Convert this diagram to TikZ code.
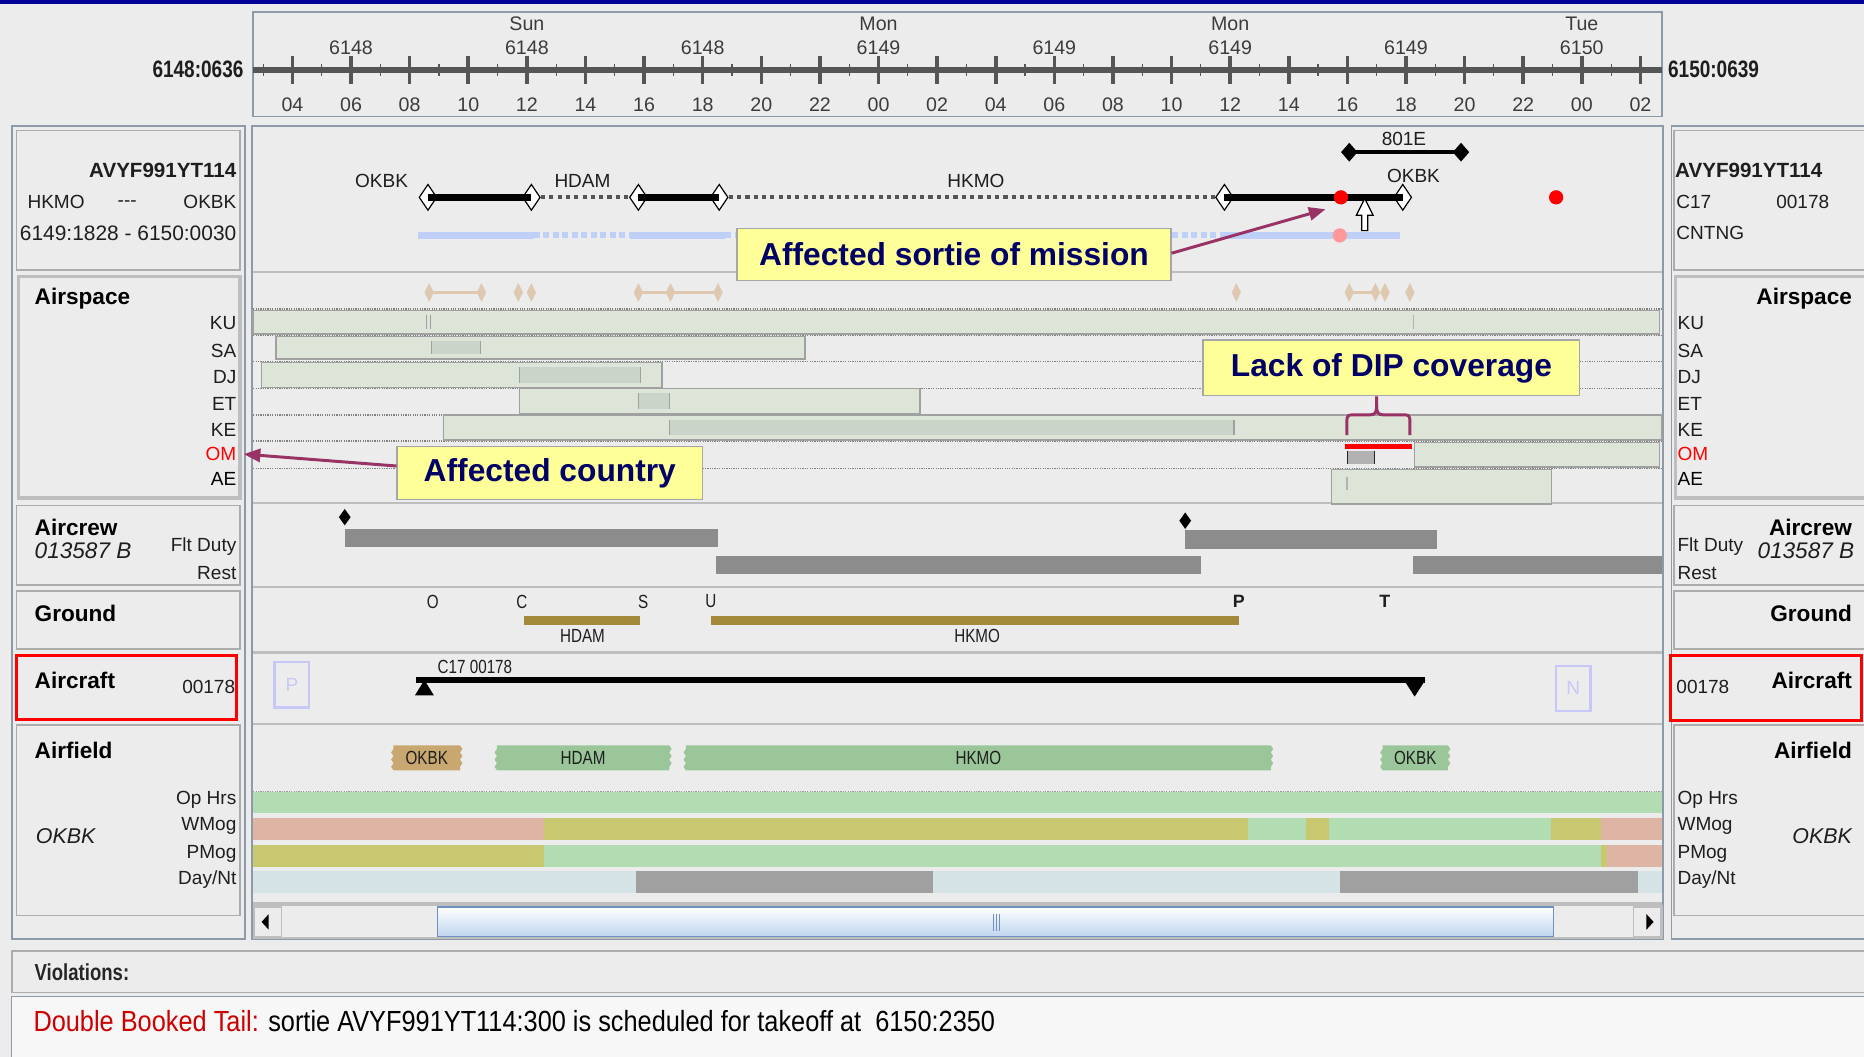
\documentclass[tikz,border=0pt]{standalone}
\usepackage{fontspec}
\usetikzlibrary{shapes.geometric,arrows.meta,calc}
\newfontfamily\uif{Liberation Sans}
\newfontfamily\narrowf{Liberation Sans}[FakeStretch=0.8]
\newfontfamily\msgf{Liberation Sans}[FakeStretch=0.87]

\definecolor{bgc}{RGB}{236,236,236}
\definecolor{navytop}{RGB}{0,0,150}
\definecolor{framec}{RGB}{140,154,170}
\definecolor{boxc}{RGB}{172,172,172}
\definecolor{selc}{RGB}{190,190,190}
\definecolor{sepc}{RGB}{190,190,190}
\definecolor{txtc}{RGB}{30,30,30}
\definecolor{rulertxt}{RGB}{60,60,60}
\definecolor{rulerc}{RGB}{85,85,85}
\definecolor{calloutc}{RGB}{255,255,153}
\definecolor{calltext}{RGB}{0,0,102}
\definecolor{plum}{RGB}{153,51,102}
\definecolor{sortiec}{RGB}{191,208,248}
\definecolor{dotc}{RGB}{85,85,85}
\definecolor{tanc}{RGB}{222,200,176}
\definecolor{spacec}{RGB}{221,229,217}
\definecolor{spacein}{RGB}{202,212,200}
\definecolor{spaceedge}{RGB}{160,160,160}
\definecolor{crewc}{RGB}{140,140,140}
\definecolor{groundc}{RGB}{163,138,58}
\definecolor{lavc}{RGB}{200,200,248}
\definecolor{fieldtan}{RGB}{200,168,112}
\definecolor{fieldgrn}{RGB}{154,198,154}
\definecolor{mogg}{RGB}{178,221,178}
\definecolor{mogy}{RGB}{200,200,112}
\definecolor{mogp}{RGB}{222,180,164}
\definecolor{dayc}{RGB}{213,226,230}
\definecolor{nightc}{RGB}{160,160,160}
\definecolor{thumbc}{RGB}{190,212,238}
\definecolor{thumbedge}{RGB}{112,144,192}
\definecolor{redlbl}{RGB}{204,0,0}

\tikzset{
  ui/.style={font=\uif\fontsize{16}{18}\selectfont, inner sep=0pt, text=txtc},
  rul/.style={font=\uif\fontsize{16.5}{18}\selectfont, inner sep=0pt, text=rulertxt},
  ttl/.style={font=\uif\bfseries\fontsize{19}{21}\selectfont, inner sep=0pt, text=black},
  ident/.style={font=\uif\bfseries\fontsize{17.3}{20}\selectfont, inner sep=0pt, text=txtc},
  stamp/.style={font=\narrowf\bfseries\fontsize{20}{22}\selectfont, inner sep=0pt, text=txtc},
  crewid/.style={font=\uif\itshape\fontsize{19}{21}\selectfont, inner sep=0pt, text=txtc},
  tagtext/.style={font=\narrowf\fontsize{16}{18}\selectfont, inner sep=0pt, text=txtc},
  pbox/.style={draw=boxc, line width=1.2pt},
  selbox/.style={draw=selc, line width=3pt},
  redbox/.style={draw=red, line width=2.5pt},
  sep/.style={draw=sepc, line width=2pt},
  frame/.style={draw=framec, line width=1.5pt},
  callout/.style={draw=gray!70, line width=1pt, fill=calloutc, text=calltext,
    font=\uif\bfseries\fontsize{26.7}{30}\selectfont, inner sep=0pt},
  plumarrow/.style={draw=plum, line width=2.5pt, -{Triangle[length=14pt,width=11pt]}},
  hollowdia/.style={diamond, draw=black, fill=white, line width=1pt, inner sep=0pt,
    minimum width=15pt, minimum height=22pt},
  soliddia/.style={diamond, fill=black, inner sep=0pt, minimum width=14pt, minimum height=16pt},
  tandia/.style={diamond, fill=tanc, inner sep=0pt, minimum width=8pt, minimum height=16pt},
  crewdia/.style={diamond, fill=black, inner sep=0pt, minimum width=10pt, minimum height=14pt},
  legbar/.style={draw=black, line width=6pt},
  leggap/.style={draw=dotc, line width=3.5pt, dash pattern=on 3.5pt off 3.5pt},
  planbar/.style={draw=sortiec, line width=6pt},
  plangap/.style={draw=sortiec, line width=5pt, dash pattern=on 5pt off 3pt},
  rowdots/.style={draw=gray, line width=1.2pt, dash pattern=on 1pt off 1pt},
  spacebar/.style={fill=spacec, draw=spaceedge, line width=1.2pt},
  spaceseg/.style={fill=spacein, draw=none},
}

% airfield tag with notched ends: x1, x2, colour, label, name
\newcommand\fieldtag[5]{%
  \fill[#3] (#1,627) -- (#2,627) -- ++(2,3) -- ++(-2,3) -- ++(2,3) -- ++(-2,3)
    -- ++(2,3) -- ++(-2,3) -- ++(0,3) -- (#1,648) -- ++(-2,-3) -- ++(2,-3)
    -- ++(-2,-3) -- ++(2,-3) -- ++(-2,-3) -- ++(2,-3) -- cycle;
  \node[tagtext] (#5) at ({(#1+#2)/2},637.5) {#4};
}

\begin{document}
\begin{tikzpicture}[x=1pt,y=-1pt]
\useasboundingbox (0,0) rectangle (1568,889);
\clip (0,0) rectangle (1568,889);
\fill[bgc] (0,0) rectangle (1568,889);
\fill[navytop] (0,0) rectangle (1568,3.5);

% ---------- time ruler ----------
\draw[frame, fill=bgc] (213,10) rectangle (1398,98);
\draw[rulerc, line width=5pt] (213,59) -- (1398,59);
\foreach \i in {0,...,23}
  \draw[rulerc, line width=1pt] ({221.35+49.3*\i},54) -- ++(0,10);
\foreach \i/\lab in {0/04,1/06,2/08,3/10,4/12,5/14,6/16,7/18,8/20,9/22,10/00,11/02,
                     12/04,13/06,14/08,15/10,16/12,17/14,18/16,19/18,20/20,21/22,22/00,23/02}{
  \draw[rulerc, line width=3pt] ({246+49.3*\i},47) -- ++(0,24);
  \node[rul] (hr\i) at ({246+49.3*\i},88) {\lab};
}
\foreach \i/\d in {1/6148,4/6148,7/6148,10/6149,13/6149,16/6149,19/6149,22/6150}
  \node[rul] (dn\i) at ({246+49.3*\i},40) {\d};
\foreach \i/\d in {4/Sun,10/Mon,16/Mon,22/Tue}
  \node[rul] (dw\i) at ({246+49.3*\i},20) {\d};
\node[stamp, anchor=east] (tstart) at (205,58) {6148:0636};
\node[stamp, anchor=west] (tend) at (1403,58) {6150:0639};

% ---------- panel frames ----------
\draw[frame] (10,106) rectangle (206,790);
\draw[frame] (212,106) rectangle (1399,790);
\draw[frame] (1406,106) rectangle (1580,790);

\draw[pbox] (14,110) rectangle (202,227);
\draw[selbox] (15.5,232.5) rectangle (202,419);
\draw[pbox] (14,425) rectangle (202,492);
\draw[pbox] (14,497) rectangle (202,546);
\draw[redbox] (14,551) rectangle (199,605);
\draw[pbox] (14,610) rectangle (202,770);

\draw[pbox] (1408,110) rectangle (1580,227);
\draw[selbox] (1409.5,232.5) rectangle (1580,419);
\draw[pbox] (1408,425) rectangle (1580,492);
\draw[pbox] (1408,497) rectangle (1580,546);
\draw[redbox] (1405,551) rectangle (1566,606);
\draw[pbox] (1408,610) rectangle (1580,770);

\foreach \y in {229,423,494,549,609,760}
  \draw[sep] (213,\y) -- (1398,\y);

% ---------- left side labels ----------
\node[ident, anchor=east] (lid) at (199,143) {AVYF991YT114};
\node[ui, anchor=west] (lfrom) at (23,170) {HKMO};
\node[ui] (ldash) at (107,171) {{-}{-}{-}};
\node[ui, anchor=east] (lto) at (199,170) {OKBK};
\node[ui, anchor=east, font=\uif\fontsize{17.6}{19}\selectfont] (ltime) at (199,196) {6149:1828 - 6150:0030};
\node[ttl, anchor=west] (lairspace) at (29,251) {Airspace};
\foreach \n/\c/\y in {KU/txtc/272,SA/txtc/295,DJ/txtc/317,ET/txtc/340,KE/txtc/362,OM/red/382,AE/black/403}
  \node[ui, anchor=east, text=\c] (l\n) at (199,\y) {\n};
\node[ttl, anchor=west] (lcrew) at (29,444) {Aircrew};
\node[crewid, anchor=west] (lcrewid) at (29,463) {013587 B};
\node[ui, anchor=east] (lduty) at (199,460) {Flt Duty};
\node[ui, anchor=east] (lrest) at (199,482) {Rest};
\node[ttl, anchor=west] (lground) at (29,516) {Ground};
\node[ttl, anchor=west] (lcraft) at (29,572) {Aircraft};
\node[ui, anchor=east] (ltail) at (198,578) {00178};
\node[ttl, anchor=west] (lfield) at (29,631) {Airfield};
\node[crewid, anchor=west, font=\uif\itshape\fontsize{18}{20}\selectfont] (lbase) at (30,703) {OKBK};
\node[ui, anchor=east] (lop) at (199,673) {Op Hrs};
\node[ui, anchor=east] (lwm) at (199,695) {WMog};
\node[ui, anchor=east] (lpm) at (199,718) {PMog};
\node[ui, anchor=east] (ldn) at (199,740) {Day/Nt};

% ---------- right side labels ----------
\node[ident, anchor=west] (rid) at (1409,143) {AVYF991YT114};
\node[ui, anchor=west] (rtype) at (1410,170) {C17};
\node[ui, anchor=west] (rtail) at (1494,170) {00178};
\node[ui, anchor=west] (rstate) at (1410,196) {CNTNG};
\node[ttl, anchor=east] (rairspace) at (1558,251) {Airspace};
\foreach \n/\c/\y in {KU/txtc/272,SA/txtc/295,DJ/txtc/317,ET/txtc/340,KE/txtc/362,OM/red/382,AE/black/403}
  \node[ui, anchor=west, text=\c] (r\n) at (1411,\y) {\n};
\node[ttl, anchor=east] (rcrew) at (1558,444) {Aircrew};
\node[crewid, anchor=east] (rcrewid) at (1560,463) {013587 B};
\node[ui, anchor=west] (rduty) at (1411,460) {Flt Duty};
\node[ui, anchor=west] (rrest) at (1411,482) {Rest};
\node[ttl, anchor=east] (rground) at (1558,516) {Ground};
\node[ttl, anchor=east] (rcraft) at (1558,572) {Aircraft};
\node[ui, anchor=west] (rtail2) at (1410,578) {00178};
\node[ttl, anchor=east] (rfield) at (1558,631) {Airfield};
\node[crewid, anchor=east, font=\uif\itshape\fontsize{18}{20}\selectfont] (rbase) at (1558,703) {OKBK};
\node[ui, anchor=west] (rop) at (1411,673) {Op Hrs};
\node[ui, anchor=west] (rwm) at (1411,695) {WMog};
\node[ui, anchor=west] (rpm) at (1411,718) {PMog};
\node[ui, anchor=west] (rdn) at (1411,740) {Day/Nt};

% ---------- mission row ----------
\node[ui] (mOKBK) at (321,152) {OKBK};
\node[ui] (mHDAM) at (490,152) {HDAM};
\node[ui] (mHKMO) at (821,152) {HKMO};
\node[ui] (mOKBK2) at (1189,148) {OKBK};
\node[ui] (m801) at (1181,117) {801E};

% planned track
\coordinate (p1) at (352,198); \coordinate (p2) at (449,198);
\coordinate (p3) at (530,198); \coordinate (p4) at (610,198);
\coordinate (p5) at (1030,198); \coordinate (p6) at (1178,198);
\draw[planbar] (p1) -- (p2);
\draw[plangap] (p2) -- (p3);
\draw[planbar] (p3) -- (p4);
\draw[plangap] (p4) -- (p5);
\draw[planbar] (p5) -- (p6);
\node[circle, fill=red!40, inner sep=0pt, minimum size=12pt] (pdot) at (1127,198) {};

% flown legs
\node[hollowdia] (m1) at (360,166) {};
\node[hollowdia] (m2) at (447,166) {};
\node[hollowdia] (m3) at (537,166) {};
\node[hollowdia] (m4) at (605,166) {};
\node[hollowdia] (m5) at (1030,166) {};
\node[hollowdia] (m6) at (1180,166) {};
\draw[legbar] (m1.center) -- (m2.center);
\draw[leggap] (m2.east) -- (m3.west);
\draw[legbar] (m3.center) -- (m4.center);
\draw[leggap] (m4.east) -- (m5.west);
\draw[legbar] (m5.center) -- (m6.center);
\node[circle, fill=red, inner sep=0pt, minimum size=12pt] (rdot1) at (1128,166) {};
\node[circle, fill=red, inner sep=0pt, minimum size=12pt] (rdot2) at (1309,166) {};

% upward marker
\draw[black, fill=white, line width=1pt] (1148,167) -- (1155,181) -- (1150.5,181) -- (1150.5,194)
  -- (1145.5,194) -- (1145.5,181) -- (1141,181) -- cycle;

% 801E leg
\node[soliddia] (e1) at (1135,128) {};
\node[soliddia] (e2) at (1229,128) {};
\draw[black, line width=3pt] (e1.center) -- (e2.center);

% ---------- airspace row ----------
\foreach \y in {260,282,304,327,349,371,394}
  \draw[rowdots] (213,\y) -- (1398,\y);

\foreach \x [count=\k] in {361,405,436,447,537,564,604,1040,1135,1157,1165,1186}
  \node[tandia] (ta\k) at (\x,246) {};
\draw[tanc, line width=2.5pt] (ta1.center) -- (ta2.center);
\draw[tanc, line width=2.5pt] (ta5.center) -- (ta7.center);
\draw[tanc, line width=2.5pt] (ta9.center) -- (ta10.center);

% KU
\draw[spacebar] (213,261) rectangle (1396,281);
\draw[spaceedge, line width=1pt] (359,265) -- (359,277) (362,265) -- (362,277);
\draw[gray!60, line width=1.5pt] (1189,265) -- (1189,277);
% SA
\draw[spacebar] (232,283) rectangle (677,302);
\fill[spaceseg] (363,287) rectangle (404,298);
\draw[spaceedge, line width=1pt] (363,287) -- (363,298) (404,287) -- (404,298);
% DJ
\draw[spacebar] (220,305) rectangle (557,326);
\fill[spaceseg] (437,309) rectangle (539,322);
\draw[spaceedge, line width=1pt] (437,309) -- (437,322) (539,309) -- (539,322);
% ET
\draw[spacebar] (437,327) rectangle (774,348);
\fill[spaceseg] (537,331) rectangle (563,344);
\draw[spaceedge, line width=1pt] (537,331) -- (537,344) (563,331) -- (563,344);
% KE
\draw[spacebar] (373,349) rectangle (1398,370);
\fill[spaceseg] (563,353) rectangle (1038,366);
\draw[spaceedge, line width=1pt] (563,353) -- (563,366) (1038,353) -- (1038,366);
% OM
\draw[spacebar] (1190,372) rectangle (1396,393);
\fill[gray!60] (1133,379) rectangle (1157,390);
\draw[gray!30!black, line width=1pt] (1133.5,379) -- (1133.5,390) (1156.5,379) -- (1156.5,390);
\draw[red, line width=4.5pt] (1131,375.5) -- (1188,375.5);
% AE
\draw[spacebar] (1120,395) rectangle (1305,424);
\draw[gray!60, line width=1.5pt] (1133,401) -- (1133,412);

% ---------- aircrew row ----------
\node[crewdia] (cd1) at (290,435) {};
\node[crewdia] (cd2) at (997,438) {};
\fill[crewc] (290,445) rectangle (604,460);
\fill[crewc] (997,446) rectangle (1209,462);
\fill[crewc] (602,468) rectangle (1010,483);
\fill[crewc] (1189,468) rectangle (1398,483);

% ---------- ground row ----------
\foreach \n/\x in {O/364,C/439,S/541,U/598}
  \node[ui, font=\narrowf\fontsize{16}{18}\selectfont] (g\n) at (\x,506) {\n};
\node[ui, font=\uif\bfseries\fontsize{15}{17}\selectfont] (gP) at (1042,506) {P};
\node[ui, font=\uif\bfseries\fontsize{15}{17}\selectfont] (gT) at (1165,506) {T};
\fill[groundc] (441,518) rectangle (538,526);
\fill[groundc] (598,518) rectangle (1042,526);
\node[ui, font=\narrowf\fontsize{16}{18}\selectfont] (gHDAM) at (490,535) {HDAM};
\node[ui, font=\narrowf\fontsize{16}{18}\selectfont] (gHKMO) at (822,535) {HKMO};

% ---------- aircraft row ----------
\node[draw=lavc, line width=2pt, minimum width=29pt, minimum height=38pt, inner sep=0pt,
      text=lavc, font=\uif\fontsize{16}{18}\selectfont] (prev) at (245.5,576) {P};
\node[draw=lavc, line width=2pt, minimum width=29pt, minimum height=38pt, inner sep=0pt,
      text=lavc, font=\uif\fontsize{16}{18}\selectfont] (next) at (1323.5,579) {N};
\node[ui, anchor=west, font=\narrowf\fontsize{16}{18}\selectfont] (tailtag) at (368,561) {C17 00178};
\coordinate (ts) at (350,572);
\coordinate (te) at (1199,572);
\draw[black, line width=5pt] (ts) -- (te);
\fill[black] (357,572) -- (365,585) -- (349,585) -- cycle;
\fill[black] (1181,572) -- (1199,572) -- (1190,586) -- cycle;

% ---------- airfield row ----------
\fieldtag{331}{387}{fieldtan}{OKBK}{f1}
\fieldtag{418}{563}{fieldgrn}{HDAM}{f2}
\fieldtag{577}{1069}{fieldgrn}{HKMO}{f3}
\fieldtag{1163}{1218}{fieldgrn}{OKBK}{f4}

\fill[mogg] (213,666) rectangle (1398,684);
\draw[draw=gray!80, line width=1pt, dash pattern=on 1pt off 1pt] (213,665.5) -- (1398,665.5);
% WMog
\fill[mogp] (213,688) rectangle (458,707);
\fill[mogy] (458,688) rectangle (1050,707);
\fill[mogg] (1050,688) rectangle (1099,707);
\fill[mogy] (1099,688) rectangle (1118,707);
\fill[mogg] (1118,688) rectangle (1305,707);
\fill[mogy] (1305,688) rectangle (1347,707);
\fill[mogp] (1347,688) rectangle (1398,707);
% PMog
\fill[mogy] (213,711) rectangle (458,729);
\fill[mogg] (458,711) rectangle (1347,729);
\fill[mogy] (1347,711) rectangle (1352,729);
\fill[mogp] (1352,711) rectangle (1398,729);
% Day / night
\fill[dayc] (213,733) rectangle (1398,751);
\fill[nightc] (535,733) rectangle (785,751);
\fill[nightc] (1127,733) rectangle (1378,751);

% scroll bar
\draw[sepc, line width=1pt, fill=bgc] (213,762) rectangle (1398,789);
\draw[sepc, line width=1pt, fill=bgc] (214,763) rectangle (237,788);
\fill[black] (220,775.5) -- (226,769) -- (226,782) -- cycle;
\draw[sepc, line width=1pt, fill=bgc] (1374,763) rectangle (1397,788);
\fill[black] (1391,775.5) -- (1385,769) -- (1385,782) -- cycle;
\shade[top color=white, bottom color=thumbc] (368,763) rectangle (1307,788);
\draw[thumbedge, line width=1.2pt] (368,763) rectangle (1307,788);
\draw[thumbedge, line width=0.8pt] (835.5,769) -- (835.5,783) (838,769) -- (838,783) (840.5,769) -- (840.5,783);

% ---------- violations ----------
\draw[pbox, fill=bgc] (10,800) rectangle (1580,835);
\node[anchor=west, inner sep=0pt, text=black!85, font=\narrowf\bfseries\fontsize{19.5}{22}\selectfont]
  (viol) at (29,818) {Violations:};
\draw[framec, line width=1pt, fill=black!3!white] (10,838) rectangle (1580,895);
\node[anchor=west, inner sep=0pt, text=black, font=\msgf\fontsize{24.5}{27}\selectfont]
  (msg) at (28,859) {\textcolor{redlbl}{Double Booked Tail:} sortie AVYF991YT114:300 is scheduled for takeoff at~ 6150:2350};

% ---------- callouts ----------
\node[callout, minimum width=365pt, minimum height=44pt] (csortie) at (802.5,214) {Affected sortie of mission};
\coordinate (csortietip) at (1115,176);
\draw[plumarrow] ($(csortie.east)+(0,-1)$) -- (csortietip);

\node[callout, minimum width=317pt, minimum height=47pt] (cdip) at (1170.5,309.5) {Lack of DIP coverage};
\coordinate (bl) at (1133,366);
\coordinate (br) at (1186,366);
\coordinate (bt) at (1158,341);
\draw[plum, line width=2.5pt] (bl) -- (1133,355) .. controls (1133,349) and (1134,349) .. (1139,349)
  -- (1152,349) .. controls (1157,349) and (1158,347) .. (bt) -- (bt |- cdip.south);
\draw[plum, line width=2.5pt] (bt) .. controls (1158,347) and (1159,349) .. (1164,349)
  -- (1180,349) .. controls (1185,349) and (1186,349) .. (1186,355) -- (br);

\node[callout, minimum width=257pt, minimum height=45pt] (ccountry) at (462.5,398) {Affected country};
\coordinate (ccountrytip) at (205,382);
\draw[plumarrow] ($(ccountry.west)+(0,-6)$) -- (ccountrytip);
\end{tikzpicture}
\end{document}
